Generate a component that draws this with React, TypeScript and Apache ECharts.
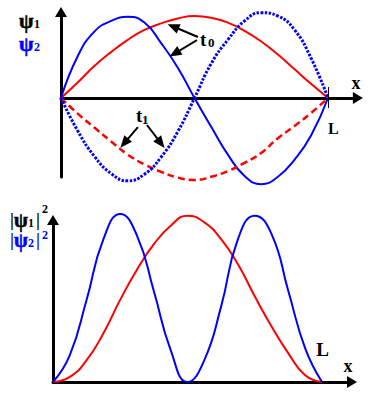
import React, { useEffect, useRef } from 'react';
import * as echarts from 'echarts';

// sample positions along the box (0 .. L, L = 1)
const XS = [0, 0.0625, 0.125, 0.1875, 0.25, 0.3125, 0.375, 0.4375, 0.5, 0.5625, 0.625, 0.6875, 0.75, 0.8125, 0.875, 0.9375, 1];

// top panel: wave functions at t0 (solid) and t1 (dashed / dotted)
const PSI1_T0 = [0, 0.19, 0.39, 0.56, 0.71, 0.83, 0.91, 0.97, 1.0, 0.98, 0.92, 0.82, 0.69, 0.53, 0.35, 0.17, 0];
const PSI2_T0 = [0, 0.51, 0.81, 0.94, 0.99, 0.92, 0.67, 0.37, 0, -0.35, -0.69, -0.95, -1.05, -0.96, -0.75, -0.45, 0];
const PSI1_T1 = [0, -0.19, -0.36, -0.53, -0.69, -0.81, -0.9, -0.97, -1.0, -0.96, -0.89, -0.79, -0.67, -0.49, -0.34, -0.18, 0];
const PSI2_T1 = [0, -0.4, -0.71, -0.92, -1.01, -0.93, -0.72, -0.41, 0, 0.42, 0.71, 0.94, 1.04, 1.0, 0.83, 0.48, 0];

// bottom panel: probability densities
const DENS1 = [0, 0.03, 0.13, 0.29, 0.49, 0.67, 0.82, 0.93, 0.99, 0.95, 0.85, 0.7, 0.51, 0.33, 0.17, 0.04, 0];
const DENS2 = [0, 0.16, 0.49, 0.85, 1.0, 0.87, 0.54, 0.19, 0, 0.13, 0.45, 0.85, 0.99, 0.88, 0.54, 0.2, 0];

const L_VALUE = 1;

const RED = '#ff0000';
const BLUE = '#0000ff';
const FONT = '"Liberation Serif", "DejaVu Serif", serif';

const pairs = (ys: number[]) => XS.map((x, i) => [x, ys[i]]);

export default function App() {
  const ref = useRef<HTMLDivElement>(null);
  useEffect(() => {
    const chart = echarts.init(ref.current!, null, { renderer: 'svg' });

    const axis = (gridIndex: number, min: number, max: number) => ({
      type: 'value',
      gridIndex,
      min,
      max,
      axisLine: {
        show: true,
        onZero: true,
        symbol: ['none', 'triangle'],
        symbolSize: [12, 10],
        lineStyle: { color: '#000', width: 3 },
      },
      axisTick: { show: false },
      axisLabel: { show: false },
      splitLine: { show: false },
    });

    const line = (name: string, data: number[], color: string, xi: number, type: any = 'solid', width = 2, extra: any = {}) => ({
      name,
      type: 'line',
      xAxisIndex: xi,
      yAxisIndex: xi,
      data: pairs(data),
      smooth: 0.5,
      symbol: 'none',
      clip: false,
      silent: true,
      lineStyle: { color, width, type },
      ...extra,
    });

    const txt = (text: string, x: number, y: number, size: number, fill: string, align = 'left', stroke = 0) => ({
      type: 'text',
      x,
      y,
      silent: true,
      style: {
        text,
        fill,
        fontSize: size,
        fontWeight: 'bold',
        fontFamily: FONT,
        align,
        verticalAlign: 'middle',
        stroke: stroke ? fill : undefined,
        lineWidth: stroke,
      },
    });

    const arrow = (a: number[], b: number[]) => [{ coord: a }, { coord: b }];

    chart.setOption({
      animation: false,
      backgroundColor: '#fff',
      grid: [
        { left: 61, top: 12, width: 296.9, height: 165 },
        { left: 53, top: 220, width: 299, height: 162 },
      ],
      xAxis: [axis(0, 0, 1.112), axis(1, 0, 1.1115)],
      yAxis: [axis(0, -0.963, 1.049), axis(1, 0, 0.964)],
      series: [
        line('psi1 t0', PSI1_T0, RED, 0, 'solid', 2, {
          markLine: {
            silent: true,
            symbol: ['none', 'none'],
            label: { show: false },
            lineStyle: { color: '#000', width: 1, type: 'solid' },
            data: [[{ coord: [L_VALUE, 0.134] }, { coord: [L_VALUE, -0.122] }]],
          },
        }),
        line('psi2 t0', PSI2_T0, BLUE, 0, 'solid', 2, {
          markLine: {
            silent: true,
            symbol: ['none', 'triangle'],
            symbolSize: [10, 12],
            label: { show: false },
            lineStyle: { color: '#000', width: 2, type: 'solid' },
            data: [
              arrow([0.513, 0.744], [0.42, 0.872]),
              arrow([0.509, 0.707], [0.426, 0.543]),
              arrow([0.288, -0.354], [0.237, -0.55]),
              arrow([0.322, -0.329], [0.374, -0.55]),
            ],
          },
        }),
        line('psi1 t1', PSI1_T1, RED, 0, [7, 4], 2.5),
        line('psi2 t1', PSI2_T1, BLUE, 0, [2.5, 1.5], 3),
        line('dens1', DENS1, RED, 1, 'solid', 2, {
          markLine: {
            silent: true,
            symbol: ['none', 'none'],
            label: { show: false },
            lineStyle: { color: '#000', width: 1, type: 'solid' },
            data: [[{ coord: [L_VALUE, 0.071] }, { coord: [L_VALUE, -0.065] }]],
          },
        }),
        line('dens2', DENS2, BLUE, 1),
      ],
      graphic: [
        txt('ψ', 19, 21, 21, '#000', 'left', 0.6),
        txt('1', 34, 24, 12, '#000'),
        txt('ψ', 19, 44, 21, BLUE, 'left', 0.6),
        txt('2', 34, 46.5, 12, BLUE),
        txt('t', 200, 39, 19, '#000'),
        txt('0', 208, 42, 13, '#000'),
        txt('t', 136, 115, 19, '#000'),
        txt('1', 142, 119, 13, '#000'),
        txt('x', 356, 83, 18, '#000', 'center'),
        txt('L', 328, 128, 16, '#000'),
        txt('|', 10, 220, 18, '#000'),
        txt('ψ', 14, 220, 20, '#000', 'left', 0.6),
        txt('1', 28, 223, 12, '#000'),
        txt('|', 36, 220, 18, '#000'),
        txt('2', 42, 209, 12, '#000'),
        txt('|', 10, 240, 18, BLUE),
        txt('ψ', 14, 240, 20, BLUE, 'left', 0.6),
        txt('2', 28, 243, 12, BLUE),
        txt('|', 36, 240, 18, BLUE),
        txt('2', 42, 235, 12, BLUE),
        txt('L', 322.5, 349.5, 19, '#000', 'center'),
        txt('x', 348, 366, 18, '#000', 'center'),
      ],
    });
    return () => chart.dispose();
  }, []);
  return <div ref={ref} style={{ position: 'absolute', left: 0, top: 0, width: 387, height: 395, background: '#fff' }} />;
}
